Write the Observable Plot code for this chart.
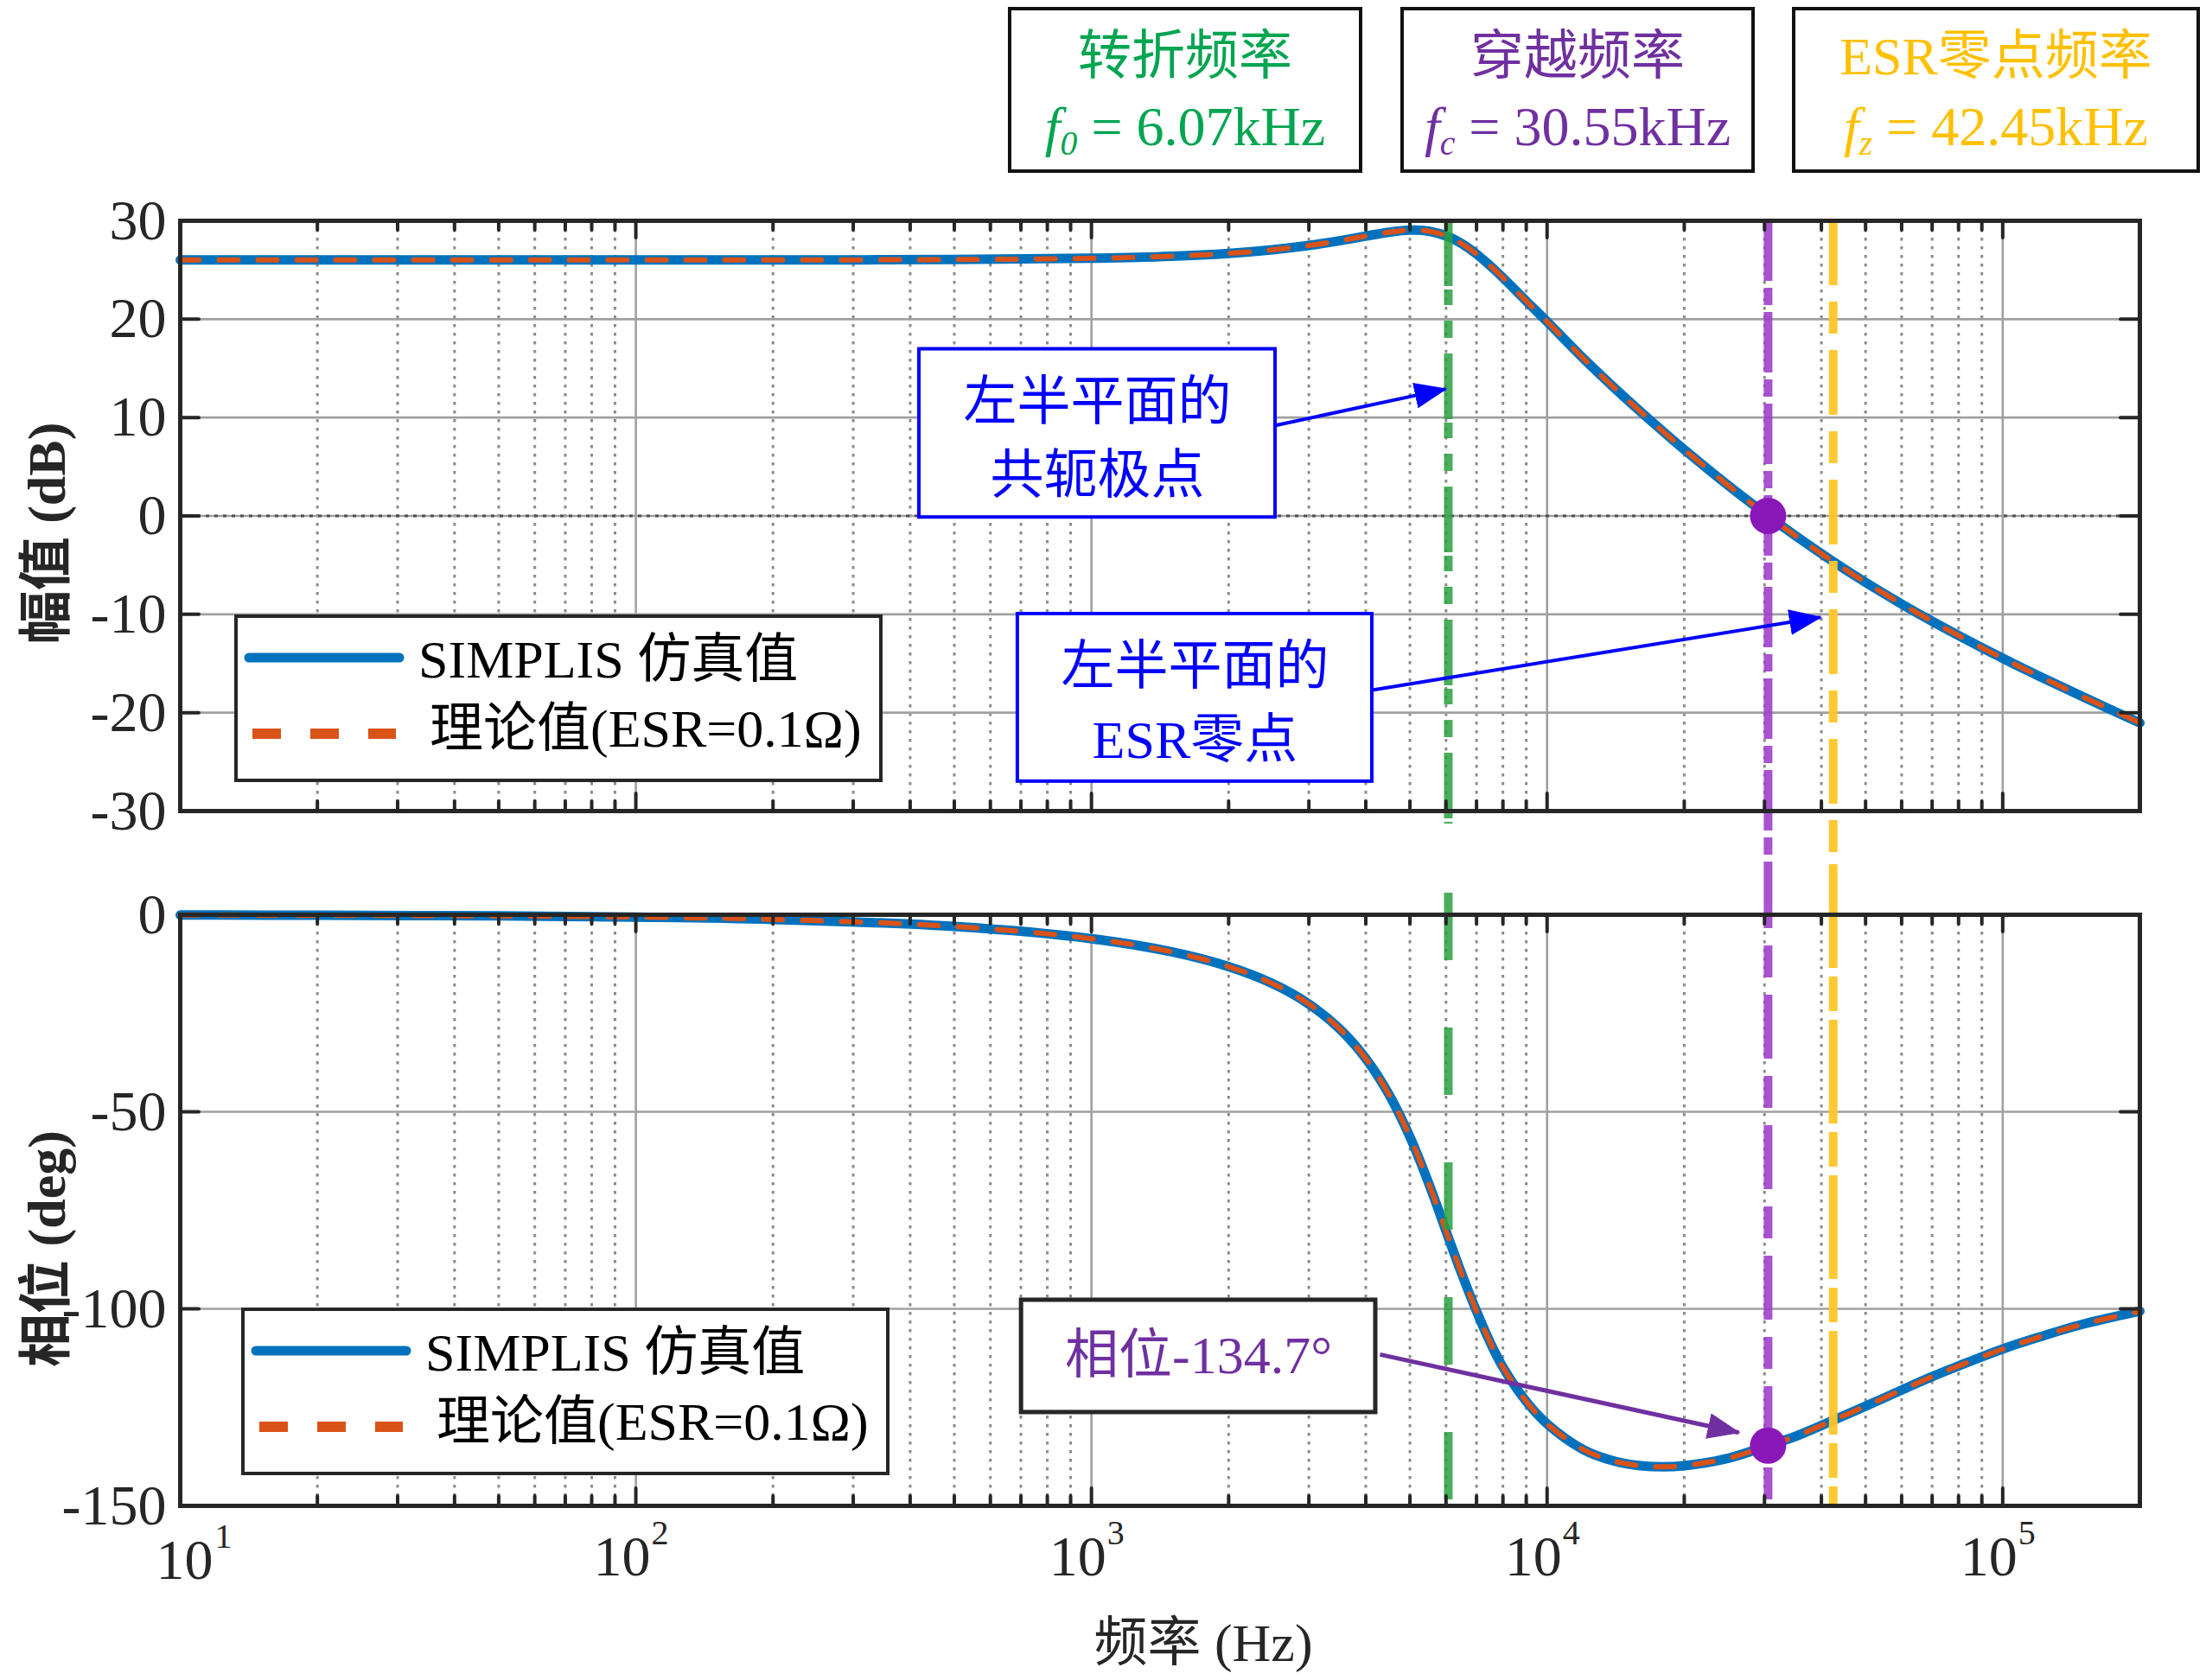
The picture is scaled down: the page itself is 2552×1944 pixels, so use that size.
<!DOCTYPE html>
<html><head><meta charset="utf-8">
<script src="https://cdn.jsdelivr.net/npm/d3@7"></script>
<script src="https://cdn.jsdelivr.net/npm/@observablehq/plot@0.6"></script>
<style>
html,body{margin:0;padding:0;background:#fff;}
#root{position:relative;width:2552px;height:1944px;overflow:hidden;font-family:'Liberation Serif','Times New Roman','Noto Sans CJK SC',serif;color:#262626;}
.tbox{position:absolute;top:8px;height:192px;box-sizing:border-box;border:4px solid #111;background:#fff;text-align:center;}
.tbox .l1{font-size:62px;line-height:86px;margin-top:10px;white-space:nowrap;}
.tbox .l2{font-size:64px;line-height:86px;white-space:nowrap;margin-top:-4px;}
.tbox sub{font-size:0.62em;vertical-align:-0.28em;line-height:0;}
.legend{position:absolute;box-sizing:border-box;border:4px solid #262626;background:#fff;width:750px;height:194px;}
.legend svg{position:absolute;left:-4px;top:-4px;}
.legend .t{position:absolute;font-size:62px;line-height:1;white-space:nowrap;color:#000;transform:translateY(-50%);}
.ylab{position:absolute;font-size:62px;font-weight:bold;white-space:nowrap;transform:translate(-50%,-50%) rotate(-90deg);color:#262626;}
.xlab{position:absolute;font-size:62px;white-space:nowrap;transform:translate(-50%,-50%);color:#262626;}
</style></head>
<body><div id="root"></div>
<script>
// ---------------- data ----------------
const freqHz = [10, 20, 50, 100, 200, 500, 1000, 1500, 2000, 2500, 3000, 3500, 4000, 4500, 5000, 5500, 6070, 6500, 7000, 7500, 8000, 9000, 10000, 12000, 14000, 16000, 18000, 20000, 25000, 30550, 35000, 42450, 50000, 60000, 70000, 80000, 100000, 120000, 150000, 200000];
const simMagDb = [26.02, 26.02, 26.02, 26.02, 26.03, 26.06, 26.19, 26.40, 26.69, 27.06, 27.49, 27.97, 28.45, 28.84, 29.05, 28.95, 28.39, 27.67, 26.62, 25.43, 24.21, 21.84, 19.75, 16.03, 13.08, 10.64, 8.55, 6.74, 3.08, 0.00, -1.98, -4.64, -6.75, -8.95, -10.71, -12.16, -14.47, -16.27, -18.39, -21.03];
const theoryMagDb = [26.02, 26.02, 26.02, 26.02, 26.03, 26.06, 26.19, 26.40, 26.69, 27.06, 27.49, 27.97, 28.45, 28.84, 29.05, 28.95, 28.39, 27.67, 26.62, 25.43, 24.21, 21.84, 19.75, 16.03, 13.08, 10.64, 8.55, 6.74, 3.08, 0.00, -1.98, -4.64, -6.75, -8.95, -10.71, -12.16, -14.47, -16.27, -18.39, -21.03];
const simPhaseDeg = [-0.06, -0.12, -0.30, -0.59, -1.18, -2.98, -6.07, -9.42, -13.17, -17.51, -22.66, -28.89, -36.48, -45.65, -56.38, -68.22, -81.86, -91.2, -100.6, -108.5, -114.8, -123.5, -129.2, -135.7, -138.6, -139.8, -140.1, -139.8, -137.9, -134.7, -132.4, -128.3, -124.7, -120.6, -117.2, -114.5, -110.2, -107.2, -103.9, -100.6];
const theoryPhaseDeg = [-0.06, -0.12, -0.30, -0.59, -1.18, -2.98, -6.07, -9.42, -13.17, -17.51, -22.66, -28.89, -36.48, -45.65, -56.38, -68.22, -81.86, -91.2, -100.6, -108.5, -114.8, -123.5, -129.2, -135.7, -138.6, -139.8, -140.1, -139.8, -137.9, -134.7, -132.4, -128.3, -124.7, -120.6, -117.2, -114.5, -110.2, -107.2, -103.9, -100.6];

const decadeTicks = [10, 100, 1000, 10000, 100000];
const decadeExponents = ["1", "2", "3", "4", "5"];
const magTicks = [30, 20, 10, 0, -10, -20, -30];
const phaseTicks = [0, -50, -100, -150];
const f0Hz = 6070, fcHz = 30550, fzHz = 42450;
const crossMagDb = 0, crossPhaseDeg = -134.7;

const legendLabels = ["SIMPLIS 仿真值", "理论值(ESR=0.1Ω)"];
const magNotes = [
  {x1: 419, x2: 2534, y1: -0.15, y2: 16.95, text: "左半平面的\n共轭极点"},
  {x1: 689, x2: 4133, y1: -27.0, y2: -9.97, text: "左半平面的\nESR零点"}
];
const magArrows = [
  {x1: 2534, y1: 9.2, x2: 5990, y2: 12.9},
  {x1: 4133, y1: -17.7, x2: 39800, y2: -10.3}
];
const phaseNotes = [{x1: 702, x2: 4206, y1: -126.3, y2: -97.8, text: "相位-134.7°"}];
const phaseArrows = [{x1: 4298, y1: -111.6, x2: 26350, y2: -131.4}];

// ---------------- layout ----------------
const FONT = "'Liberation Serif','Times New Roman','Noto Sans CJK SC',serif";
const W = 2552, ML = 208, MR = 77, FW = W - ML - MR;
const topH = 1000, topMT = 255, topMB = 62, topFH = topH - topMT - topMB;
const botH = 944, botMT = 58, botMB = 202, botFH = botH - botMT - botMB;
const minorTicks = decadeTicks.flatMap(d => [2,3,4,5,6,7,8,9].map(k => k * d)).filter(v => v < 2e5);

const magSim = freqHz.map((f, i) => ({f, v: simMagDb[i]}));
const magTh = freqHz.map((f, i) => ({f, v: theoryMagDb[i]}));
const phSim = freqHz.map((f, i) => ({f, v: simPhaseDeg[i]}));
const phTh = freqHz.map((f, i) => ({f, v: theoryPhaseDeg[i]}));

const BLUE = "#0072BD", ORANGE = "#D95319", DARK = "#262626";

function gridMarks(inner) {
  return [
    Plot.ruleX(minorTicks, {stroke: "#8c8c8c", strokeWidth: 3, strokeDasharray: "3.5,6.5"}),
    Plot.ruleX(decadeTicks.slice(1), {stroke: "#a0a0a0", strokeWidth: 2.6}),
    Plot.ruleY(inner, {stroke: "#a0a0a0", strokeWidth: 2.6})
  ];
}
function tickMarks(yTicks, FH) {
  const s = {stroke: DARK, strokeWidth: 4, strokeLinecap: "round"};
  return [
    Plot.frame({stroke: DARK, strokeWidth: 5}),
    Plot.ruleX(decadeTicks, {...s, insetBottom: FH - 20}),
    Plot.ruleX(decadeTicks, {...s, insetTop: FH - 20}),
    Plot.ruleX(minorTicks, {...s, insetBottom: FH - 11}),
    Plot.ruleX(minorTicks, {...s, insetTop: FH - 11}),
    Plot.ruleY(yTicks, {...s, insetRight: FW - 22}),
    Plot.ruleY(yTicks, {...s, insetLeft: FW - 22}),
    Plot.axisY(yTicks, {tickSize: 0, tickPadding: 16, tickFormat: d => String(d), fontSize: 66, fontFamily: FONT, fill: DARK, label: null})
  ];
}
function curveMarks(sim, th) {
  return [
    Plot.line(sim, {x: "f", y: "v", stroke: BLUE, strokeWidth: 11, curve: "catmull-rom", strokeLinecap: "round"}),
    Plot.line(th, {x: "f", y: "v", stroke: ORANGE, strokeWidth: 6, curve: "catmull-rom", strokeDasharray: "22,23"})
  ];
}

const topPlot = Plot.plot({
  width: W, height: topH, marginLeft: ML, marginRight: MR, marginTop: topMT, marginBottom: topMB,
  style: {fontFamily: FONT, background: "transparent", maxWidth: "none"},
  x: {type: "log", domain: [10, 2e5], axis: null},
  y: {domain: [-30, 30], axis: null},
  marks: [
    ...gridMarks(magTicks.slice(1, -1)),
    Plot.ruleY([0], {stroke: "#505050", strokeWidth: 3, strokeDasharray: "4,6"}),
    Plot.rect(magNotes, {x1: "x1", x2: "x2", y1: "y1", y2: "y2", fill: "white", stroke: "#0000ff", strokeWidth: 4}),
    Plot.text(magNotes, {x: d => Math.sqrt(d.x1 * d.x2), y: d => (d.y1 + d.y2) / 2, text: "text", fill: "#0000ff", fontSize: 62, lineHeight: 1.37, fontFamily: FONT}),
    ...curveMarks(magSim, magTh),
    Plot.ruleX([f0Hz], {stroke: "#2aa040", strokeOpacity: 0.85, strokeWidth: 10, strokeDasharray: "76,4,18,18,20,18", insetBottom: -15}),
    Plot.ruleX([fcHz], {stroke: "#a040cc", strokeOpacity: 0.9, strokeWidth: 10, strokeDasharray: "70,8,20,8", insetBottom: -topMB}),
    Plot.ruleX([fzHz], {stroke: "#ffc629", strokeOpacity: 0.95, strokeWidth: 10, strokeDasharray: "75,19,37,19", insetBottom: -topMB}),
    Plot.link(magArrows, {x1: "x1", y1: "y1", x2: "x2", y2: "y2", stroke: "#0000ff", strokeWidth: 4}),
    Plot.dot([{f: fcHz, v: crossMagDb}], {x: "f", y: "v", r: 21, fill: "#8a18b8", stroke: "none"}),
    ...tickMarks(magTicks, topFH)
  ]
});

const botPlot = Plot.plot({
  width: W, height: botH, marginLeft: ML, marginRight: MR, marginTop: botMT, marginBottom: botMB,
  style: {fontFamily: FONT, background: "transparent", maxWidth: "none"},
  x: {type: "log", domain: [10, 2e5], axis: null},
  y: {domain: [-150, 0], axis: null},
  marks: [
    ...gridMarks(phaseTicks.slice(1, -1)),
    Plot.rect(phaseNotes, {x1: "x1", x2: "x2", y1: "y1", y2: "y2", fill: "white", stroke: DARK, strokeWidth: 5}),
    Plot.text(phaseNotes, {x: d => Math.sqrt(d.x1 * d.x2), y: d => (d.y1 + d.y2) / 2, text: "text", fill: "#7030A0", fontSize: 62, fontFamily: FONT}),
    ...curveMarks(phSim, phTh),
    Plot.ruleX([f0Hz], {stroke: "#2aa040", strokeOpacity: 0.85, strokeWidth: 10, strokeDasharray: "78,78", insetTop: -25}),
    Plot.ruleX([fcHz], {stroke: "#a040cc", strokeOpacity: 0.9, strokeWidth: 10, strokeDasharray: "74,20,37,20", insetTop: -botMT}),
    Plot.ruleX([fzHz], {stroke: "#ffc629", strokeOpacity: 0.95, strokeWidth: 10, strokeDasharray: "120,10,40,10", insetTop: -botMT}),
    Plot.link(phaseArrows, {x1: "x1", y1: "y1", x2: "x2", y2: "y2", stroke: "#7030A0", strokeWidth: 5}),
    Plot.dot([{f: fcHz, v: crossPhaseDeg}], {x: "f", y: "v", r: 21, fill: "#8a18b8", stroke: "none"}),
    ...tickMarks(phaseTicks, botFH),
    // x tick labels 10^n
    Plot.text(decadeTicks.slice(1), {x: d => d, text: () => "10", frameAnchor: "bottom", lineAnchor: "bottom", textAnchor: "end", dx: 17, dy: 80, fontSize: 66, fontFamily: FONT, fill: DARK}),
    Plot.text(decadeTicks.slice(1), {x: d => d, text: (d, i) => decadeExponents[i + 1], frameAnchor: "bottom", lineAnchor: "bottom", textAnchor: "start", dx: 18, dy: 44, fontSize: 40, fontFamily: FONT, fill: DARK}),
    Plot.text(decadeTicks.slice(0, 1), {x: d => d, text: () => "10", frameAnchor: "bottom", lineAnchor: "bottom", textAnchor: "end", dx: 38, dy: 84, fontSize: 66, fontFamily: FONT, fill: DARK}),
    Plot.text(decadeTicks.slice(0, 1), {x: d => d, text: () => decadeExponents[0], frameAnchor: "bottom", lineAnchor: "bottom", textAnchor: "start", dx: 40, dy: 48, fontSize: 40, fontFamily: FONT, fill: DARK})
  ]
});

function addArrowHeads(svg, id, color) {
  const ns = "http://www.w3.org/2000/svg";
  const defs = document.createElementNS(ns, "defs");
  const m = document.createElementNS(ns, "marker");
  m.setAttribute("id", id);
  m.setAttribute("viewBox", "0 0 38 30");
  m.setAttribute("refX", "36");
  m.setAttribute("refY", "15");
  m.setAttribute("markerWidth", "38");
  m.setAttribute("markerHeight", "30");
  m.setAttribute("markerUnits", "userSpaceOnUse");
  m.setAttribute("orient", "auto");
  const p = document.createElementNS(ns, "path");
  p.setAttribute("d", "M0,0L38,15L0,30Z");
  p.setAttribute("fill", color);
  m.appendChild(p);
  defs.appendChild(m);
  svg.insertBefore(defs, svg.firstChild);
  svg.querySelectorAll('g[aria-label="link"] path').forEach(el => el.setAttribute("marker-end", `url(#${id})`));
}
addArrowHeads(topPlot, "ahBlue", "#0000ff");
addArrowHeads(botPlot, "ahPurple", "#7030A0");

const root = document.getElementById("root");
topPlot.style.position = "absolute"; topPlot.style.left = "0px"; topPlot.style.top = "0px";
botPlot.style.position = "absolute"; botPlot.style.left = "0px"; botPlot.style.top = topH + "px";
root.appendChild(topPlot);
root.appendChild(botPlot);

// ---------------- HTML text: headers, legends, axis titles ----------------
const headers = [
  {left: 1166, width: 410, color: "#00a550", title: "转折频率", sym: "0", value: "6.07kHz"},
  {left: 1620, width: 410, color: "#7030a0", title: "穿越频率", sym: "c", value: "30.55kHz"},
  {left: 2073, width: 472, color: "#ffc000", title: "ESR零点频率", sym: "z", value: "42.45kHz"}
];
headers.forEach(h => {
  const d = document.createElement("div");
  d.className = "tbox";
  d.style.left = h.left + "px"; d.style.width = h.width + "px"; d.style.color = h.color;
  d.innerHTML = `<div class="l1">${h.title}</div><div class="l2"><i>f</i><sub><i>${h.sym}</i></sub> = ${h.value}</div>`;
  root.appendChild(d);
});

function addLegend(left, top) {
  const d = document.createElement("div");
  d.className = "legend";
  d.style.left = left + "px"; d.style.top = top + "px";
  d.innerHTML = `<svg width="750" height="194">
    <line x1="17" y1="50" x2="191" y2="50" stroke="${BLUE}" stroke-width="11" stroke-linecap="round"/>
    <line x1="21" y1="138" x2="187" y2="138" stroke="${ORANGE}" stroke-width="12" stroke-dasharray="33,34"/>
  </svg>
  <div class="t" style="left:209px;top:48px">${legendLabels[0]}</div>
  <div class="t" style="left:222px;top:128px">${legendLabels[1]}</div>`;
  root.appendChild(d);
}
addLegend(271, 711);
addLegend(279, 1513);

function addLabel(cls, text, x, y) {
  const d = document.createElement("div");
  d.className = cls; d.textContent = text;
  d.style.left = x + "px"; d.style.top = y + "px";
  root.appendChild(d);
}
addLabel("ylab", "幅值 (dB)", 48, 617);
addLabel("ylab", "相位 (deg)", 48, 1445);
addLabel("xlab", "频率 (Hz)", 1392, 1895);
</script></body></html>
